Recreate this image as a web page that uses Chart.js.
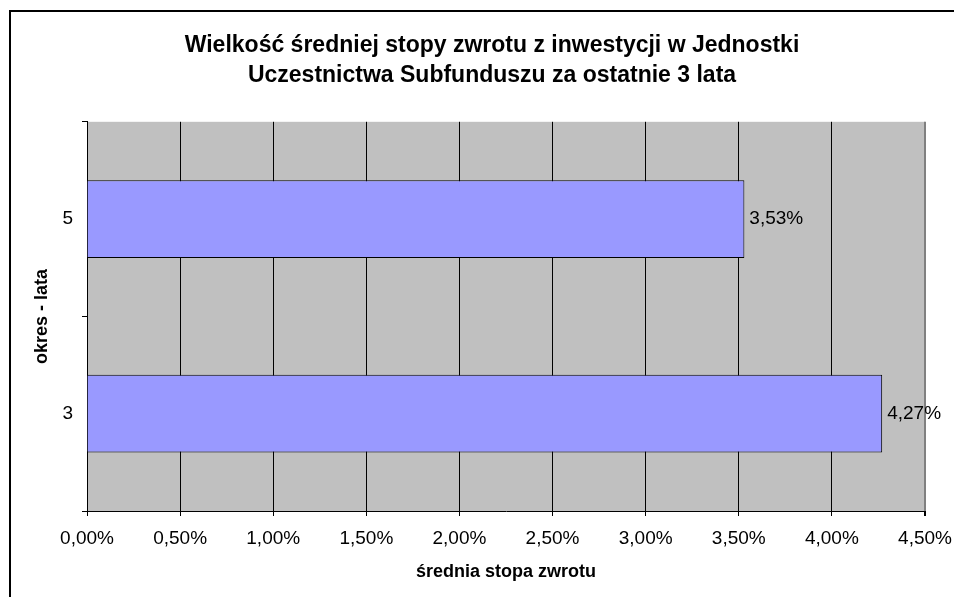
<!DOCTYPE html>
<html>
<head>
<meta charset="utf-8">
<script src="https://cdn.jsdelivr.net/npm/chart.js@4/dist/chart.umd.min.js"></script>
<style>
  body { margin: 0; background: #fff; }
  .frame { position: absolute; left: 9px; top: 10px; width: 1000px; height: 700px; border-top: 2px solid #000; border-left: 2px solid #000; }
  canvas { position: absolute; left: 0; top: 0; }
</style>
</head>
<body>
<div class="frame"></div>
<canvas id="returnChart" width="954" height="597"></canvas>
<script>
// values
const periods = ["5", "3"];
const avgReturn = [3.53, 4.27];
const xTicks = [0, 0.5, 1, 1.5, 2, 2.5, 3, 3.5, 4, 4.5];

const chartTitle = [
  "Wielkość średniej stopy zwrotu z inwestycji w Jednostki",
  "Uczestnictwa Subfunduszu za ostatnie 3 lata"
];

const fontFamily = "'Liberation Sans', Arial, sans-serif";

function formatPct(v) {
  return Number(v).toFixed(2).replace(".", ",") + "%";
}

// gray plot area like the old spreadsheet chart
const plotBackground = {
  id: "plotBackground",
  beforeDraw(chart) {
    const { ctx, chartArea } = chart;
    ctx.save();
    ctx.fillStyle = "#c0c0c0";
    ctx.fillRect(chartArea.left, chartArea.top, chartArea.right - chartArea.left, chartArea.bottom - chartArea.top);
    ctx.restore();
  }
};

// value labels at the end of each bar
const barValueLabels = {
  id: "barValueLabels",
  afterDatasetsDraw(chart) {
    const ctx = chart.ctx;
    const meta = chart.getDatasetMeta(0);
    ctx.save();
    ctx.font = "19px " + fontFamily;
    ctx.fillStyle = "#000";
    ctx.textAlign = "left";
    ctx.textBaseline = "middle";
    meta.data.forEach((bar, i) => {
      ctx.fillText(formatPct(avgReturn[i]), bar.x + 5, bar.y);
    });
    ctx.restore();
  }
};

const ctx = document.getElementById("returnChart").getContext("2d");

new Chart(ctx, {
  type: "bar",
  data: {
    labels: periods,
    datasets: [
      {
        label: "średnia stopa zwrotu",
        data: avgReturn,
        backgroundColor: "#9999ff",
        borderColor: "#000",
        borderWidth: 1,
        barPercentage: 0.4,
        categoryPercentage: 1.0,
      },
    ],
  },
  options: {
    responsive: false,
    animation: false,
    indexAxis: "y",
    layout: {
      padding: { left: 59, right: 29, top: 0, bottom: 0 },
    },
    scales: {
      x: {
        min: 0,
        max: 4.5,
        afterBuildTicks: (scale) => {
          scale.ticks = xTicks.map((v) => ({ value: v }));
        },
        afterFit: (scale) => {
          scale.height = 86;
          // let the layout padding decide where the plot ends
          scale.paddingLeft = 0;
          scale.paddingRight = 0;
        },
        ticks: {
          color: "#000",
          padding: 11,
          font: { family: fontFamily, size: 19 },
          callback: (value) => formatPct(value),
        },
        grid: {
          color: (c) => (c.tick && c.tick.value === 4.5 ? "#808080" : "#000"),
          lineWidth: (c) => (c.tick && c.tick.value === 4.5 ? 2 : 1),
          tickColor: "#000",
          tickLength: 5,
        },
        border: { color: "#000", width: 1 },
        title: {
          display: true,
          text: "średnia stopa zwrotu",
          color: "#000",
          font: { family: fontFamily, size: 18, weight: "bold" },
          padding: { top: 0, bottom: 14 },
        },
      },
      y: {
        afterFit: (scale) => {
          scale.width = 28;
        },
        ticks: {
          color: "#000",
          padding: 9,
          font: { family: fontFamily, size: 19 },
        },
        grid: {
          drawOnChartArea: false,
          color: "#000",
          tickLength: 5,
        },
        border: { color: "#000", width: 1 },
        title: {
          display: true,
          text: "okres - lata",
          color: "#000",
          font: { family: fontFamily, size: 18, weight: "bold" },
          padding: { top: -28, bottom: 0 },
        },
      },
    },
    plugins: {
      legend: { display: false },
      tooltip: { enabled: false },
      title: {
        display: true,
        text: chartTitle,
        color: "#000",
        font: { family: fontFamily, size: 23, weight: "bold", lineHeight: 1.3 },
        padding: { top: 31, bottom: 31 },
      },
    },
  },
  plugins: [plotBackground, barValueLabels],
});
</script>
</body>
</html>
